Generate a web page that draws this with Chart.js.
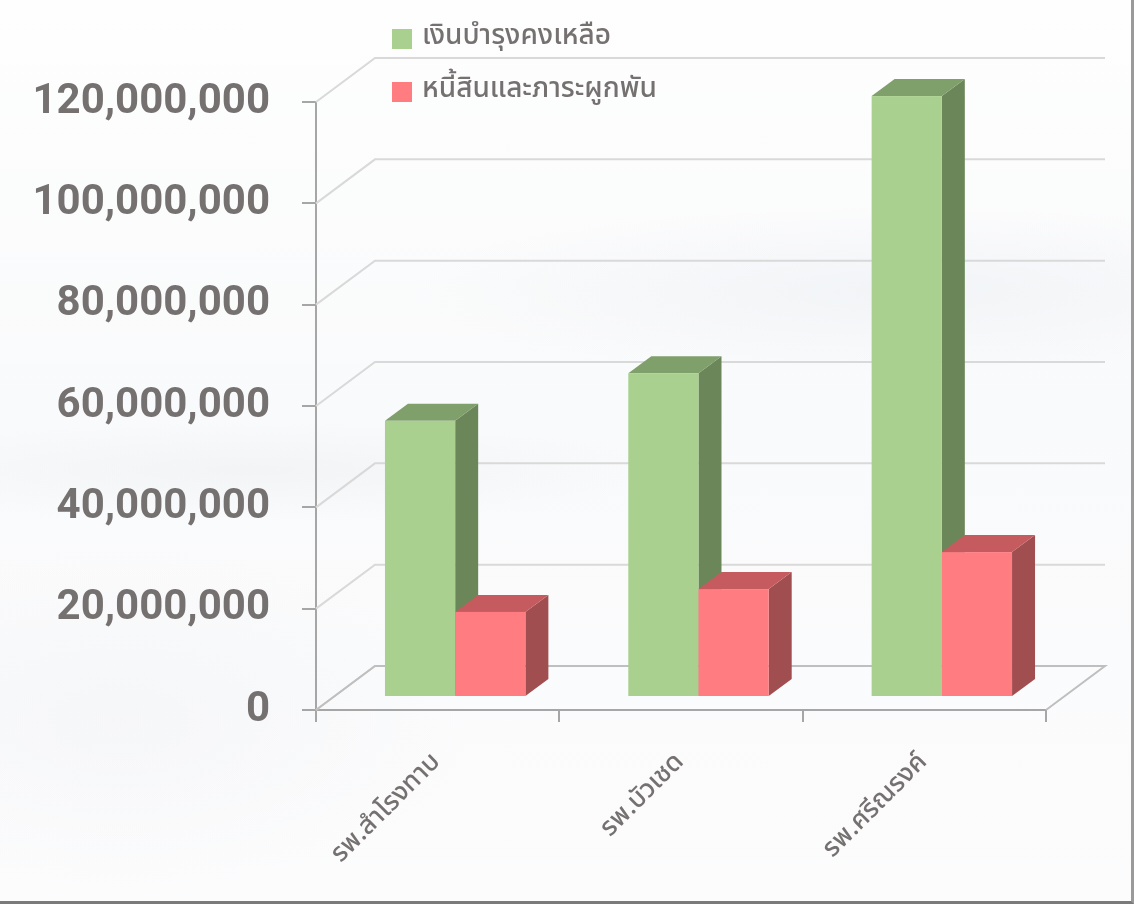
<!DOCTYPE html>
<html>
<head>
<meta charset="utf-8">
<script src="https://cdn.jsdelivr.net/npm/chart.js@4"></script>
<style>
    html, body { margin: 0; padding: 0; }
    body { width: 1134px; height: 904px; overflow: hidden; background: #fff; }
    .frame {
        position: relative;
        width: 1131px; height: 901px;
        border-right: 3px solid #9a9a9a;
        border-bottom: 3px solid #7a7a7a;
        background:
            radial-gradient(ellipse 700px 120px at 900px 290px, rgba(225,230,238,0.35), rgba(255,255,255,0) 70%),
            radial-gradient(ellipse 620px 70px at 250px 470px, rgba(230,232,236,0.35), rgba(255,255,255,0) 70%),
            radial-gradient(ellipse 500px 240px at 120px 720px, rgba(236,238,242,0.35), rgba(255,255,255,0) 70%),
            linear-gradient(180deg, #fefefe 0%, #f9fafb 45%, #fcfcfd 100%);
    }
    canvas { position: absolute; left: 0; top: 0; }
</style>
</head>
<body>
<div class="frame">
    <canvas id="chart" width="1134" height="904"></canvas>
</div>
<script>
const categories = ['รพ.สำโรงทาบ', 'รพ.บัวเชด', 'รพ.ศรีณรงค์'];
const seriesNames = ['เงินบำรุงคงเหลือ', 'หนี้สินและภาระผูกพัน'];
const remainingFunds = [54500000, 63900000, 118600000];
const liabilities = [16800000, 21300000, 28600000];
const yTicks = [0, 20000000, 40000000, 60000000, 80000000, 100000000, 120000000];

const thaiFont = '"Noto Sans Thai", "Noto Sans", "DejaVu Sans", sans-serif';
const textGray = '#767171';

// front / top / side colours for each series
const faces = [
    { front: '#a9d08e', top: '#7f9f6b', side: '#6b8759' },
    { front: '#ff7c80', top: '#c55b5e', side: '#a14e50' },
];

// oblique 3D offsets
const wallDx = 59, wallDy = -44;   // back wall
const barDx = 17.5, barDy = -13;   // plane of the bars
const depthDx = 23, depthDy = -17; // bar depth

const bars3d = {
    id: 'bars3d',
    beforeDatasetsDraw(chart) {
        const ctx = chart.ctx;
        const area = chart.chartArea;
        const y = chart.scales.y;

        // left wall diagonals + back wall grid
        ctx.save();
        ctx.strokeStyle = '#d9d9d9';
        ctx.lineWidth = 2;
        yTicks.forEach(v => {
            const py = y.getPixelForValue(v);
            ctx.beginPath();
            ctx.moveTo(area.left, py);
            ctx.lineTo(area.left + wallDx, py + wallDy);
            ctx.lineTo(area.right + wallDx, py + wallDy);
            ctx.stroke();
        });
        // floor
        const py0 = y.getPixelForValue(0);
        ctx.strokeStyle = '#bfbfbf';
        ctx.beginPath();
        ctx.moveTo(area.left, py0);
        ctx.lineTo(area.left + wallDx, py0 + wallDy);
        ctx.lineTo(area.right + wallDx, py0 + wallDy);
        ctx.lineTo(area.right, py0);
        ctx.stroke();
        ctx.restore();

        // bars
        for (let i = 0; i < categories.length; i++) {
            for (let d = 0; d < chart.data.datasets.length; d++) {
                const el = chart.getDatasetMeta(d).data[i];
                const c = faces[d];
                const x0 = el.x - el.width / 2 + barDx;
                const x1 = el.x + el.width / 2 + barDx;
                const yt = el.y + barDy;
                const yb = el.base + barDy;

                ctx.save();
                ctx.fillStyle = c.side;
                ctx.beginPath();
                ctx.moveTo(x1, yt);
                ctx.lineTo(x1 + depthDx, yt + depthDy);
                ctx.lineTo(x1 + depthDx, yb + depthDy);
                ctx.lineTo(x1, yb);
                ctx.closePath();
                ctx.fill();

                ctx.fillStyle = c.top;
                ctx.beginPath();
                ctx.moveTo(x0, yt);
                ctx.lineTo(x1, yt);
                ctx.lineTo(x1 + depthDx, yt + depthDy);
                ctx.lineTo(x0 + depthDx, yt + depthDy);
                ctx.closePath();
                ctx.fill();

                ctx.fillStyle = c.front;
                ctx.fillRect(x0, yt, x1 - x0, yb - yt);
                ctx.restore();
            }
        }
        return false;
    },
    afterDraw(chart) {
        // legend, stacked, overlapping the top of the plot
        const ctx = chart.ctx;
        ctx.save();
        ctx.font = '500 28px ' + thaiFont;
        ctx.textBaseline = 'middle';
        chart.data.datasets.forEach((ds, i) => {
            const cy = 39 + i * 53;
            ctx.fillStyle = ds.backgroundColor;
            ctx.fillRect(392, cy - 10, 20, 20);
            ctx.fillStyle = textGray;
            ctx.fillText(ds.label, 422, cy - 1);
        });
        ctx.restore();
    }
};

new Chart(document.getElementById('chart'), {
    type: 'bar',
    data: {
        labels: categories,
        datasets: [
            { label: seriesNames[0], data: remainingFunds, backgroundColor: faces[0].front },
            { label: seriesNames[1], data: liabilities, backgroundColor: faces[1].front },
        ],
    },
    options: {
        responsive: false,
        animation: false,
        locale: 'en-US',
        layout: { padding: { top: 102, right: 88, left: 0, bottom: 0 } },
        categoryPercentage: 0.577,
        barPercentage: 1,
        plugins: {
            legend: { display: false },
            tooltip: { enabled: false },
        },
        scales: {
            x: {
                afterFit: (scale) => { scale.height = 904 - 710; },
                grid: { offset: true, drawOnChartArea: false, tickLength: 12, color: '#a6a6a6', lineWidth: 2 },
                border: { color: '#a6a6a6', width: 2 },
                ticks: {
                    color: textGray,
                    font: { family: thaiFont, size: 26, weight: '500' },
                    minRotation: 45,
                    maxRotation: 45,
                    padding: 26,
                },
            },
            y: {
                min: 0,
                max: 120000000,
                afterFit: (scale) => { scale.width = 316; },
                grid: { drawOnChartArea: false, tickLength: 14, color: '#a6a6a6', lineWidth: 2 },
                border: { color: '#a6a6a6', width: 2 },
                ticks: {
                    stepSize: 20000000,
                    color: textGray,
                    font: { family: 'Roboto, "Noto Sans", sans-serif', size: 42, weight: 'bold' },
                    padding: 32,
                    callback: (v) => v.toLocaleString('en-US'),
                },
            },
        },
    },
    plugins: [bars3d],
});
</script>
</body>
</html>
